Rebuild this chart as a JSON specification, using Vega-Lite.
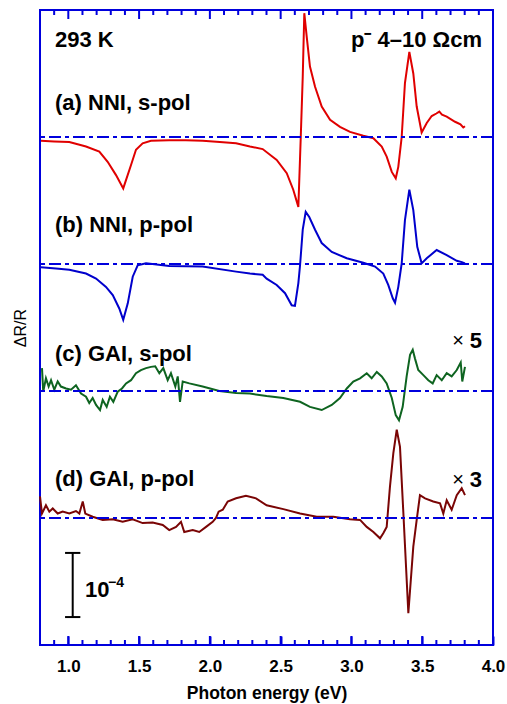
{
  "$schema": "https://vega.github.io/schema/vega-lite/v6.json",
  "autosize": "none",
  "width": 453,
  "height": 635,
  "padding": {"left": 40, "top": 10, "right": 14, "bottom": 59},
  "background": "white",
  "config": {
    "view": {"stroke": "#0000dd", "strokeWidth": 2},
    "axis": {"grid": false, "domain": false, "labelFont": "Liberation Sans", "titleFont": "Liberation Sans"},
    "text": {"font": "Liberation Sans"}
  },
  "datasets": {
    "curves": [
      {"s": "a", "E": 0.807, "v": 7.94}, {"s": "a", "E": 0.9, "v": 7.93}, {"s": "a", "E": 1.007, "v": 7.92}, {"s": "a", "E": 1.125, "v": 7.85}, {"s": "a", "E": 1.219, "v": 7.77}, {"s": "a", "E": 1.278, "v": 7.61}, {"s": "a", "E": 1.337, "v": 7.40}, {"s": "a", "E": 1.388, "v": 7.19}, {"s": "a", "E": 1.443, "v": 7.56}, {"s": "a", "E": 1.478, "v": 7.80}, {"s": "a", "E": 1.525, "v": 7.90}, {"s": "a", "E": 1.584, "v": 7.94}, {"s": "a", "E": 1.713, "v": 7.95}, {"s": "a", "E": 1.83, "v": 7.95}, {"s": "a", "E": 1.949, "v": 7.94}, {"s": "a", "E": 2.07, "v": 7.92}, {"s": "a", "E": 2.185, "v": 7.90}, {"s": "a", "E": 2.283, "v": 7.85}, {"s": "a", "E": 2.373, "v": 7.81}, {"s": "a", "E": 2.472, "v": 7.64}, {"s": "a", "E": 2.543, "v": 7.43}, {"s": "a", "E": 2.589, "v": 7.17}, {"s": "a", "E": 2.625, "v": 6.90}, {"s": "a", "E": 2.642, "v": 8.00}, {"s": "a", "E": 2.656, "v": 8.95}, {"s": "a", "E": 2.667, "v": 9.95}, {"s": "a", "E": 2.684, "v": 9.58}, {"s": "a", "E": 2.707, "v": 9.11}, {"s": "a", "E": 2.743, "v": 8.79}, {"s": "a", "E": 2.790, "v": 8.48}, {"s": "a", "E": 2.849, "v": 8.27}, {"s": "a", "E": 2.919, "v": 8.16}, {"s": "a", "E": 2.990, "v": 8.08}, {"s": "a", "E": 3.084, "v": 8.02}, {"s": "a", "E": 3.155, "v": 7.98}, {"s": "a", "E": 3.214, "v": 7.85}, {"s": "a", "E": 3.249, "v": 7.69}, {"s": "a", "E": 3.285, "v": 7.45}, {"s": "a", "E": 3.313, "v": 7.35}, {"s": "a", "E": 3.331, "v": 7.53}, {"s": "a", "E": 3.355, "v": 8.00}, {"s": "a", "E": 3.378, "v": 8.85}, {"s": "a", "E": 3.409, "v": 9.34}, {"s": "a", "E": 3.437, "v": 9.00}, {"s": "a", "E": 3.461, "v": 8.48}, {"s": "a", "E": 3.496, "v": 8.07}, {"s": "a", "E": 3.532, "v": 8.22}, {"s": "a", "E": 3.567, "v": 8.33}, {"s": "a", "E": 3.600, "v": 8.37}, {"s": "a", "E": 3.621, "v": 8.40}, {"s": "a", "E": 3.640, "v": 8.35}, {"s": "a", "E": 3.673, "v": 8.32}, {"s": "a", "E": 3.732, "v": 8.24}, {"s": "a", "E": 3.770, "v": 8.20}, {"s": "a", "E": 3.790, "v": 8.15}, {"s": "a", "E": 3.802, "v": 8.17},

      {"s": "b", "E": 0.807, "v": 5.95}, {"s": "b", "E": 0.913, "v": 5.93}, {"s": "b", "E": 1.007, "v": 5.91}, {"s": "b", "E": 1.125, "v": 5.85}, {"s": "b", "E": 1.196, "v": 5.77}, {"s": "b", "E": 1.266, "v": 5.64}, {"s": "b", "E": 1.314, "v": 5.51}, {"s": "b", "E": 1.360, "v": 5.30}, {"s": "b", "E": 1.388, "v": 5.12}, {"s": "b", "E": 1.420, "v": 5.38}, {"s": "b", "E": 1.455, "v": 5.80}, {"s": "b", "E": 1.490, "v": 5.98}, {"s": "b", "E": 1.549, "v": 6.01}, {"s": "b", "E": 1.713, "v": 5.97}, {"s": "b", "E": 1.949, "v": 5.96}, {"s": "b", "E": 2.185, "v": 5.88}, {"s": "b", "E": 2.283, "v": 5.85}, {"s": "b", "E": 2.373, "v": 5.83}, {"s": "b", "E": 2.401, "v": 5.77}, {"s": "b", "E": 2.472, "v": 5.67}, {"s": "b", "E": 2.531, "v": 5.54}, {"s": "b", "E": 2.578, "v": 5.35}, {"s": "b", "E": 2.601, "v": 5.34}, {"s": "b", "E": 2.625, "v": 5.70}, {"s": "b", "E": 2.637, "v": 5.98}, {"s": "b", "E": 2.656, "v": 6.54}, {"s": "b", "E": 2.677, "v": 6.82}, {"s": "b", "E": 2.702, "v": 6.74}, {"s": "b", "E": 2.743, "v": 6.54}, {"s": "b", "E": 2.790, "v": 6.33}, {"s": "b", "E": 2.861, "v": 6.19}, {"s": "b", "E": 2.967, "v": 6.09}, {"s": "b", "E": 3.084, "v": 6.02}, {"s": "b", "E": 3.167, "v": 5.96}, {"s": "b", "E": 3.225, "v": 5.85}, {"s": "b", "E": 3.260, "v": 5.67}, {"s": "b", "E": 3.292, "v": 5.46}, {"s": "b", "E": 3.308, "v": 5.39}, {"s": "b", "E": 3.331, "v": 5.64}, {"s": "b", "E": 3.355, "v": 6.01}, {"s": "b", "E": 3.378, "v": 6.69}, {"s": "b", "E": 3.409, "v": 7.17}, {"s": "b", "E": 3.437, "v": 6.85}, {"s": "b", "E": 3.465, "v": 6.27}, {"s": "b", "E": 3.496, "v": 6.01}, {"s": "b", "E": 3.532, "v": 6.09}, {"s": "b", "E": 3.602, "v": 6.22}, {"s": "b", "E": 3.673, "v": 6.14}, {"s": "b", "E": 3.744, "v": 6.05}, {"s": "b", "E": 3.780, "v": 6.03}, {"s": "b", "E": 3.802, "v": 6.01},

      {"s": "c", "E": 0.814, "v": 4.36}, {"s": "c", "E": 0.823, "v": 3.99}, {"s": "c", "E": 0.842, "v": 4.20}, {"s": "c", "E": 0.861, "v": 4.07}, {"s": "c", "E": 0.878, "v": 4.17}, {"s": "c", "E": 0.901, "v": 4.02}, {"s": "c", "E": 0.925, "v": 4.15}, {"s": "c", "E": 0.948, "v": 4.07}, {"s": "c", "E": 0.984, "v": 4.04}, {"s": "c", "E": 1.019, "v": 4.02}, {"s": "c", "E": 1.054, "v": 4.09}, {"s": "c", "E": 1.090, "v": 3.96}, {"s": "c", "E": 1.125, "v": 3.91}, {"s": "c", "E": 1.148, "v": 3.81}, {"s": "c", "E": 1.172, "v": 3.89}, {"s": "c", "E": 1.196, "v": 3.78}, {"s": "c", "E": 1.224, "v": 3.70}, {"s": "c", "E": 1.243, "v": 3.86}, {"s": "c", "E": 1.271, "v": 3.75}, {"s": "c", "E": 1.294, "v": 3.91}, {"s": "c", "E": 1.318, "v": 3.83}, {"s": "c", "E": 1.349, "v": 3.99}, {"s": "c", "E": 1.379, "v": 4.04}, {"s": "c", "E": 1.408, "v": 4.12}, {"s": "c", "E": 1.443, "v": 4.17}, {"s": "c", "E": 1.478, "v": 4.28}, {"s": "c", "E": 1.513, "v": 4.33}, {"s": "c", "E": 1.549, "v": 4.36}, {"s": "c", "E": 1.584, "v": 4.38}, {"s": "c", "E": 1.614, "v": 4.39}, {"s": "c", "E": 1.643, "v": 4.28}, {"s": "c", "E": 1.671, "v": 4.36}, {"s": "c", "E": 1.702, "v": 4.17}, {"s": "c", "E": 1.725, "v": 4.28}, {"s": "c", "E": 1.756, "v": 4.07}, {"s": "c", "E": 1.773, "v": 4.23}, {"s": "c", "E": 1.789, "v": 3.83}, {"s": "c", "E": 1.808, "v": 4.15}, {"s": "c", "E": 1.855, "v": 4.12}, {"s": "c", "E": 1.949, "v": 4.07}, {"s": "c", "E": 2.067, "v": 4.00}, {"s": "c", "E": 2.185, "v": 3.97}, {"s": "c", "E": 2.283, "v": 3.96}, {"s": "c", "E": 2.401, "v": 3.92}, {"s": "c", "E": 2.519, "v": 3.89}, {"s": "c", "E": 2.637, "v": 3.83}, {"s": "c", "E": 2.707, "v": 3.75}, {"s": "c", "E": 2.790, "v": 3.70}, {"s": "c", "E": 2.861, "v": 3.78}, {"s": "c", "E": 2.919, "v": 3.89}, {"s": "c", "E": 2.967, "v": 4.04}, {"s": "c", "E": 3.013, "v": 4.15}, {"s": "c", "E": 3.061, "v": 4.20}, {"s": "c", "E": 3.108, "v": 4.28}, {"s": "c", "E": 3.143, "v": 4.20}, {"s": "c", "E": 3.179, "v": 4.30}, {"s": "c", "E": 3.214, "v": 4.23}, {"s": "c", "E": 3.249, "v": 4.12}, {"s": "c", "E": 3.285, "v": 3.89}, {"s": "c", "E": 3.313, "v": 3.62}, {"s": "c", "E": 3.336, "v": 3.54}, {"s": "c", "E": 3.362, "v": 3.75}, {"s": "c", "E": 3.390, "v": 4.23}, {"s": "c", "E": 3.414, "v": 4.57}, {"s": "c", "E": 3.433, "v": 4.65}, {"s": "c", "E": 3.449, "v": 4.51}, {"s": "c", "E": 3.472, "v": 4.33}, {"s": "c", "E": 3.508, "v": 4.25}, {"s": "c", "E": 3.543, "v": 4.17}, {"s": "c", "E": 3.574, "v": 4.12}, {"s": "c", "E": 3.602, "v": 4.25}, {"s": "c", "E": 3.638, "v": 4.17}, {"s": "c", "E": 3.673, "v": 4.28}, {"s": "c", "E": 3.708, "v": 4.23}, {"s": "c", "E": 3.744, "v": 4.33}, {"s": "c", "E": 3.772, "v": 4.45}, {"s": "c", "E": 3.783, "v": 4.15}, {"s": "c", "E": 3.802, "v": 4.38},

      {"s": "d", "E": 0.800, "v": 2.34}, {"s": "d", "E": 0.814, "v": 2.07}, {"s": "d", "E": 0.842, "v": 2.20}, {"s": "d", "E": 0.866, "v": 2.10}, {"s": "d", "E": 0.890, "v": 2.15}, {"s": "d", "E": 0.925, "v": 2.07}, {"s": "d", "E": 0.960, "v": 2.10}, {"s": "d", "E": 1.007, "v": 2.07}, {"s": "d", "E": 1.054, "v": 2.11}, {"s": "d", "E": 1.078, "v": 2.07}, {"s": "d", "E": 1.102, "v": 2.26}, {"s": "d", "E": 1.120, "v": 2.07}, {"s": "d", "E": 1.172, "v": 2.02}, {"s": "d", "E": 1.243, "v": 1.97}, {"s": "d", "E": 1.314, "v": 1.98}, {"s": "d", "E": 1.384, "v": 1.94}, {"s": "d", "E": 1.455, "v": 1.98}, {"s": "d", "E": 1.525, "v": 1.92}, {"s": "d", "E": 1.596, "v": 1.93}, {"s": "d", "E": 1.667, "v": 1.89}, {"s": "d", "E": 1.713, "v": 1.81}, {"s": "d", "E": 1.761, "v": 1.86}, {"s": "d", "E": 1.796, "v": 1.94}, {"s": "d", "E": 1.819, "v": 1.78}, {"s": "d", "E": 1.879, "v": 1.81}, {"s": "d", "E": 1.925, "v": 1.78}, {"s": "d", "E": 1.973, "v": 1.86}, {"s": "d", "E": 2.020, "v": 1.94}, {"s": "d", "E": 2.043, "v": 2.00}, {"s": "d", "E": 2.062, "v": 2.10}, {"s": "d", "E": 2.091, "v": 2.13}, {"s": "d", "E": 2.126, "v": 2.26}, {"s": "d", "E": 2.185, "v": 2.31}, {"s": "d", "E": 2.255, "v": 2.35}, {"s": "d", "E": 2.326, "v": 2.31}, {"s": "d", "E": 2.401, "v": 2.20}, {"s": "d", "E": 2.519, "v": 2.14}, {"s": "d", "E": 2.637, "v": 2.07}, {"s": "d", "E": 2.755, "v": 2.02}, {"s": "d", "E": 2.872, "v": 2.02}, {"s": "d", "E": 2.990, "v": 1.98}, {"s": "d", "E": 3.061, "v": 1.97}, {"s": "d", "E": 3.108, "v": 1.86}, {"s": "d", "E": 3.155, "v": 1.78}, {"s": "d", "E": 3.202, "v": 1.68}, {"s": "d", "E": 3.225, "v": 1.76}, {"s": "d", "E": 3.249, "v": 1.86}, {"s": "d", "E": 3.272, "v": 2.49}, {"s": "d", "E": 3.296, "v": 3.02}, {"s": "d", "E": 3.320, "v": 3.39}, {"s": "d", "E": 3.343, "v": 3.12}, {"s": "d", "E": 3.367, "v": 2.07}, {"s": "d", "E": 3.402, "v": 0.50}, {"s": "d", "E": 3.437, "v": 1.55}, {"s": "d", "E": 3.461, "v": 1.97}, {"s": "d", "E": 3.484, "v": 2.36}, {"s": "d", "E": 3.520, "v": 2.31}, {"s": "d", "E": 3.578, "v": 2.26}, {"s": "d", "E": 3.626, "v": 2.23}, {"s": "d", "E": 3.649, "v": 2.07}, {"s": "d", "E": 3.673, "v": 2.28}, {"s": "d", "E": 3.708, "v": 2.13}, {"s": "d", "E": 3.744, "v": 2.36}, {"s": "d", "E": 3.779, "v": 2.47}, {"s": "d", "E": 3.802, "v": 2.36}
    ],
    "baselines": [{"b": 2}, {"b": 4}, {"b": 6}, {"b": 8}],
    "ticklines": [
      {"id": "B10", "t": 1.0, "y": 0}, {"id": "B10", "t": 1.0, "y": 0.142}, {"id": "B15", "t": 1.5, "y": 0}, {"id": "B15", "t": 1.5, "y": 0.142}, {"id": "B20", "t": 2.0, "y": 0}, {"id": "B20", "t": 2.0, "y": 0.142}, {"id": "B25", "t": 2.5, "y": 0}, {"id": "B25", "t": 2.5, "y": 0.142}, {"id": "B30", "t": 3.0, "y": 0}, {"id": "B30", "t": 3.0, "y": 0.142}, {"id": "B35", "t": 3.5, "y": 0}, {"id": "B35", "t": 3.5, "y": 0.142},
      {"id": "T10", "t": 1.0, "y": 10}, {"id": "T10", "t": 1.0, "y": 9.858}, {"id": "T15", "t": 1.5, "y": 10}, {"id": "T15", "t": 1.5, "y": 9.858}, {"id": "T20", "t": 2.0, "y": 10}, {"id": "T20", "t": 2.0, "y": 9.858}, {"id": "T25", "t": 2.5, "y": 10}, {"id": "T25", "t": 2.5, "y": 9.858}, {"id": "T30", "t": 3.0, "y": 10}, {"id": "T30", "t": 3.0, "y": 9.858}, {"id": "T35", "t": 3.5, "y": 10}, {"id": "T35", "t": 3.5, "y": 9.858},
      {"id": "b09", "t": 0.9, "y": 0}, {"id": "b09", "t": 0.9, "y": 0.079}, {"id": "b11", "t": 1.1, "y": 0}, {"id": "b11", "t": 1.1, "y": 0.079}, {"id": "b12", "t": 1.2, "y": 0}, {"id": "b12", "t": 1.2, "y": 0.079}, {"id": "b13", "t": 1.3, "y": 0}, {"id": "b13", "t": 1.3, "y": 0.079}, {"id": "b14", "t": 1.4, "y": 0}, {"id": "b14", "t": 1.4, "y": 0.079}, {"id": "b16", "t": 1.6, "y": 0}, {"id": "b16", "t": 1.6, "y": 0.079}, {"id": "b17", "t": 1.7, "y": 0}, {"id": "b17", "t": 1.7, "y": 0.079}, {"id": "b18", "t": 1.8, "y": 0}, {"id": "b18", "t": 1.8, "y": 0.079}, {"id": "b19", "t": 1.9, "y": 0}, {"id": "b19", "t": 1.9, "y": 0.079}, {"id": "b21", "t": 2.1, "y": 0}, {"id": "b21", "t": 2.1, "y": 0.079}, {"id": "b22", "t": 2.2, "y": 0}, {"id": "b22", "t": 2.2, "y": 0.079}, {"id": "b23", "t": 2.3, "y": 0}, {"id": "b23", "t": 2.3, "y": 0.079}, {"id": "b24", "t": 2.4, "y": 0}, {"id": "b24", "t": 2.4, "y": 0.079}, {"id": "b26", "t": 2.6, "y": 0}, {"id": "b26", "t": 2.6, "y": 0.079}, {"id": "b27", "t": 2.7, "y": 0}, {"id": "b27", "t": 2.7, "y": 0.079}, {"id": "b28", "t": 2.8, "y": 0}, {"id": "b28", "t": 2.8, "y": 0.079}, {"id": "b29", "t": 2.9, "y": 0}, {"id": "b29", "t": 2.9, "y": 0.079}, {"id": "b31", "t": 3.1, "y": 0}, {"id": "b31", "t": 3.1, "y": 0.079}, {"id": "b32", "t": 3.2, "y": 0}, {"id": "b32", "t": 3.2, "y": 0.079}, {"id": "b33", "t": 3.3, "y": 0}, {"id": "b33", "t": 3.3, "y": 0.079}, {"id": "b34", "t": 3.4, "y": 0}, {"id": "b34", "t": 3.4, "y": 0.079}, {"id": "b36", "t": 3.6, "y": 0}, {"id": "b36", "t": 3.6, "y": 0.079}, {"id": "b37", "t": 3.7, "y": 0}, {"id": "b37", "t": 3.7, "y": 0.079}, {"id": "b38", "t": 3.8, "y": 0}, {"id": "b38", "t": 3.8, "y": 0.079}, {"id": "b39", "t": 3.9, "y": 0}, {"id": "b39", "t": 3.9, "y": 0.079},
      {"id": "t09", "t": 0.9, "y": 10}, {"id": "t09", "t": 0.9, "y": 9.921}, {"id": "t11", "t": 1.1, "y": 10}, {"id": "t11", "t": 1.1, "y": 9.921}, {"id": "t12", "t": 1.2, "y": 10}, {"id": "t12", "t": 1.2, "y": 9.921}, {"id": "t13", "t": 1.3, "y": 10}, {"id": "t13", "t": 1.3, "y": 9.921}, {"id": "t14", "t": 1.4, "y": 10}, {"id": "t14", "t": 1.4, "y": 9.921}, {"id": "t16", "t": 1.6, "y": 10}, {"id": "t16", "t": 1.6, "y": 9.921}, {"id": "t17", "t": 1.7, "y": 10}, {"id": "t17", "t": 1.7, "y": 9.921}, {"id": "t18", "t": 1.8, "y": 10}, {"id": "t18", "t": 1.8, "y": 9.921}, {"id": "t19", "t": 1.9, "y": 10}, {"id": "t19", "t": 1.9, "y": 9.921}, {"id": "t21", "t": 2.1, "y": 10}, {"id": "t21", "t": 2.1, "y": 9.921}, {"id": "t22", "t": 2.2, "y": 10}, {"id": "t22", "t": 2.2, "y": 9.921}, {"id": "t23", "t": 2.3, "y": 10}, {"id": "t23", "t": 2.3, "y": 9.921}, {"id": "t24", "t": 2.4, "y": 10}, {"id": "t24", "t": 2.4, "y": 9.921}, {"id": "t26", "t": 2.6, "y": 10}, {"id": "t26", "t": 2.6, "y": 9.921}, {"id": "t27", "t": 2.7, "y": 10}, {"id": "t27", "t": 2.7, "y": 9.921}, {"id": "t28", "t": 2.8, "y": 10}, {"id": "t28", "t": 2.8, "y": 9.921}, {"id": "t29", "t": 2.9, "y": 10}, {"id": "t29", "t": 2.9, "y": 9.921}, {"id": "t31", "t": 3.1, "y": 10}, {"id": "t31", "t": 3.1, "y": 9.921}, {"id": "t32", "t": 3.2, "y": 10}, {"id": "t32", "t": 3.2, "y": 9.921}, {"id": "t33", "t": 3.3, "y": 10}, {"id": "t33", "t": 3.3, "y": 9.921}, {"id": "t34", "t": 3.4, "y": 10}, {"id": "t34", "t": 3.4, "y": 9.921}, {"id": "t36", "t": 3.6, "y": 10}, {"id": "t36", "t": 3.6, "y": 9.921}, {"id": "t37", "t": 3.7, "y": 10}, {"id": "t37", "t": 3.7, "y": 9.921}, {"id": "t38", "t": 3.8, "y": 10}, {"id": "t38", "t": 3.8, "y": 9.921}, {"id": "t39", "t": 3.9, "y": 10}, {"id": "t39", "t": 3.9, "y": 9.921}
    ],
    "labels": [
      {"E": 0.906, "v": 9.53, "t": "293 K"},
      {"E": 0.906, "v": 8.54, "t": "(a) NNI, s-pol"},
      {"E": 0.906, "v": 6.61, "t": "(b) NNI, p-pol"},
      {"E": 0.906, "v": 4.59, "t": "(c) GAI, s-pol"},
      {"E": 0.906, "v": 2.61, "t": "(d) GAI, p-pol"},
      {"E": 1.118, "v": 0.87, "t": "10"}
    ],
    "rlabels": [
      {"E": 3.922, "v": 9.53, "t": "p⁻ 4–10 Ωcm"},
      {"E": 3.922, "v": 4.78, "t": "5"},
      {"E": 3.922, "v": 2.60, "t": "3"}
    ],
    "times": [
      {"E": 3.753, "v": 4.78, "t": "×"},
      {"E": 3.753, "v": 2.60, "t": "×"}
    ],
    "sup": [{"E": 1.28, "v": 0.98, "t": "−4"}],
    "bar": [{"E": 1.031, "lo": 0.44, "hi": 1.45}],
    "caps": [{"x1": 0.977, "x2": 1.085, "v": 0.44}, {"x1": 0.977, "x2": 1.085, "v": 1.45}]
  },
  "resolve": {"axis": {"x": "independent", "y": "independent"}},
  "layer": [
    {
      "data": {"name": "curves"},
      "mark": {"type": "line", "strokeWidth": 2},
      "encoding": {
        "x": {"field": "E", "type": "quantitative",
              "scale": {"domain": [0.8, 4.0], "nice": false, "zero": false},
              "axis": {"orient": "bottom", "offset": -9, "values": [1.0, 1.5, 2.0, 2.5, 3.0, 3.5, 4.0], "format": ".1f",
                       "tickSize": 9, "tickColor": "#0000dd", "tickWidth": 2, "labelPadding": 13,
                       "labelFontSize": 17, "labelFontWeight": "bold", "labelColor": "black",
                       "labelFlush": false, "labelOverlap": false,
                       "title": "Photon energy (eV)", "titleFontSize": 17.5, "titleFontWeight": "bold", "titleColor": "black", "titlePadding": 10}},
        "y": {"field": "v", "type": "quantitative",
              "scale": {"domain": [0, 10], "nice": false, "zero": false},
              "axis": {"orient": "left", "ticks": false, "labels": false, "title": "ΔR/R", "titleFontSize": 16, "titleFontWeight": "normal", "titleColor": "black", "titlePadding": 12}},
        "color": {"field": "s", "type": "nominal", "legend": null,
                  "scale": {"domain": ["a", "b", "c", "d"], "range": ["#e00000", "#0000cc", "#0e6420", "#7a0505"]}}
      }
    },
    {
      "data": {"name": "baselines"},
      "mark": {"type": "rule", "color": "#0000dd", "strokeWidth": 2, "strokeDash": [12, 4, 4, 4]},
      "encoding": {"y": {"field": "b", "type": "quantitative", "axis": null}}
    },
    {
      "data": {"name": "ticklines"},
      "mark": {"type": "line", "color": "#0000dd", "strokeWidth": 2},
      "encoding": {
        "x": {"field": "t", "type": "quantitative", "axis": null},
        "y": {"field": "y", "type": "quantitative", "axis": null},
        "detail": {"field": "id", "type": "nominal"}
      }
    },
    {
      "data": {"name": "bar"},
      "mark": {"type": "rule", "color": "black", "strokeWidth": 2},
      "encoding": {
        "x": {"field": "E", "type": "quantitative", "axis": null},
        "y": {"field": "lo", "type": "quantitative", "axis": null},
        "y2": {"field": "hi"}
      }
    },
    {
      "data": {"name": "caps"},
      "mark": {"type": "rule", "color": "black", "strokeWidth": 2},
      "encoding": {
        "x": {"field": "x1", "type": "quantitative", "axis": null},
        "x2": {"field": "x2"},
        "y": {"field": "v", "type": "quantitative", "axis": null}
      }
    },
    {
      "data": {"name": "labels"},
      "mark": {"type": "text", "align": "left", "baseline": "middle", "fontSize": 22, "fontWeight": "bold", "color": "black"},
      "encoding": {
        "x": {"field": "E", "type": "quantitative", "axis": null},
        "y": {"field": "v", "type": "quantitative", "axis": null},
        "text": {"field": "t"}
      }
    },
    {
      "data": {"name": "rlabels"},
      "mark": {"type": "text", "align": "right", "baseline": "middle", "fontSize": 22, "fontWeight": "bold", "color": "black"},
      "encoding": {
        "x": {"field": "E", "type": "quantitative", "axis": null},
        "y": {"field": "v", "type": "quantitative", "axis": null},
        "text": {"field": "t"}
      }
    },
    {
      "data": {"name": "times"},
      "mark": {"type": "text", "align": "center", "baseline": "middle", "fontSize": 20, "fontWeight": "normal", "color": "black"},
      "encoding": {
        "x": {"field": "E", "type": "quantitative", "axis": null},
        "y": {"field": "v", "type": "quantitative", "axis": null},
        "text": {"field": "t"}
      }
    },
    {
      "data": {"name": "sup"},
      "mark": {"type": "text", "align": "left", "baseline": "middle", "fontSize": 14, "fontWeight": "bold", "color": "black"},
      "encoding": {
        "x": {"field": "E", "type": "quantitative", "axis": null},
        "y": {"field": "v", "type": "quantitative", "axis": null},
        "text": {"field": "t"}
      }
    }
  ]
}
